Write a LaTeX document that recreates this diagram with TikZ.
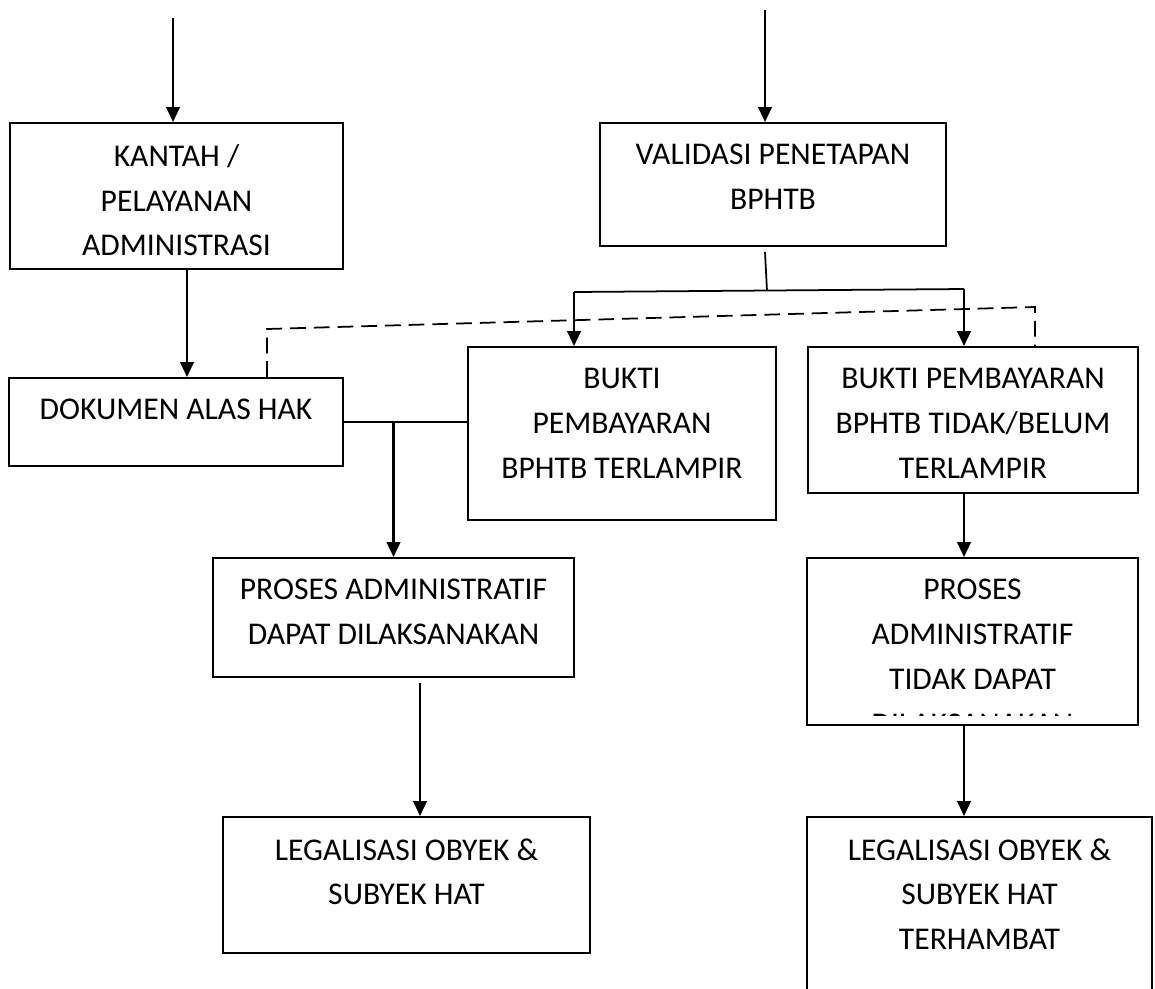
\documentclass[tikz,border=0pt]{standalone}
\usepackage{fontspec}
\setmainfont{Carlito}
\usepackage{tikz}
\usetikzlibrary{positioning,calc,arrows.meta}

\begin{document}
\begin{tikzpicture}[x=0.02cm,y=-0.02cm,
    kotak/.style={draw,line width=1.1pt,inner sep=0pt},
    teks/.style={inner sep=0pt,align=center,font=\fontsize{18pt}{25.5pt}\selectfont},
    panah/.style={line width=1.4pt,-{Triangle[length=0.3cm,width=0.27cm]}},
    garis/.style={line width=1pt},
    putus/.style={line width=1pt,dash pattern=on 9pt off 4.5pt}]
              \clip (0,0) rectangle (1155,988);
              \fill[white] (0,0) rectangle (1155,988);
              \node[kotak,minimum width=6.66cm,minimum height=2.92cm] (kantah) at (176.5,196) {};
              \node[kotak,minimum width=6.92cm,minimum height=2.46cm] (validasi) at (773,184.5) {};
              \node[kotak,minimum width=6.68cm,minimum height=1.76cm] (dokumen) at (176,422) {};
              \node[kotak,minimum width=6.16cm,minimum height=3.46cm] (bukti) at (622,433.5) {};
              \node[kotak,minimum width=6.6cm,minimum height=2.92cm] (buktibelum) at (973,420) {};
              \node[kotak,minimum width=7.22cm,minimum height=2.38cm] (proses) at (393.5,617.5) {};
              \node[kotak,minimum width=6.62cm,minimum height=3.34cm] (prosestidak) at (972.5,641.5) {};
              \node[kotak,minimum width=7.34cm,minimum height=2.72cm] (legal) at (406.5,885) {};
              \node[kotak,minimum width=6.9cm,minimum height=3.86cm] (legalhambat) at (979.5,913.5) {};
              \node[teks,below=0.44cm of kantah.north] (kantah-t) {KANTAH /\\PELAYANAN\\ADMINISTRASI};
              \node[teks,below=0.44cm of validasi.north] (validasi-t) {VALIDASI PENETAPAN\\BPHTB};
              \node[teks,below=0.44cm of dokumen.north] (dokumen-t) {DOKUMEN ALAS HAK};
              \node[teks,below=0.44cm of bukti.north] (bukti-t) {BUKTI\\PEMBAYARAN\\BPHTB TERLAMPIR};
              \node[teks,below=0.44cm of buktibelum.north] (buktibelum-t) {BUKTI PEMBAYARAN\\BPHTB TIDAK/BELUM\\TERLAMPIR};
              \node[teks,below=0.44cm of proses.north] (proses-t) {PROSES ADMINISTRATIF\\DAPAT DILAKSANAKAN};
              \begin{scope}
                \clip (prosestidak.north west) rectangle ($(prosestidak.south east)+(0,-10)$);
                \node[teks,below=0.44cm of prosestidak.north] (prosestidak-t) {PROSES\\ADMINISTRATIF\\TIDAK DAPAT\\DILAKSANAKAN};
              \end{scope}
              \node[teks,below=0.44cm of legal.north] (legal-t) {LEGALISASI OBYEK \&\\SUBYEK HAT};
              \node[teks,below=0.44cm of legalhambat.north] (legalhambat-t) {LEGALISASI OBYEK \&\\SUBYEK HAT\\TERHAMBAT};
              \coordinate (masuk1) at (173,18);
              \coordinate (masuk2) at (765,10);
              \draw[panah] (masuk1) -- (masuk1 |- kantah.north);
              \draw[panah] (masuk2) -- (masuk2 |- validasi.north);
              \draw[panah] ([xshift=0.21cm]kantah.south) -- ([xshift=0.21cm]kantah.south |- dokumen.north);
              \coordinate (cabang) at (767,291);
              \draw[garis] ($(validasi.south)+(-8,5)$) -- (cabang);
              \coordinate (kiri) at (574,292);
              \coordinate (kanan) at (964,289);
              \draw[garis] (kiri) -- (kanan);
              \draw[panah] (kiri) -- (kiri |- bukti.north);
              \draw[panah] (kanan) -- (kanan |- buktibelum.north);
              \coordinate (putus1) at (267,329);
              \coordinate (putus2) at (1035,307);
              \draw[putus] (putus1 |- dokumen.north) -- (putus1) -- (putus2) -- (putus2 |- buktibelum.north);
              \draw[garis] (dokumen.east) -- (dokumen.east -| bukti.west);
              \draw[panah] (dokumen.east -| proses.north) -- (proses.north);
              \coordinate (turun) at (420,683);
              \draw[panah] (turun) -- (turun |- legal.north);
              \draw[panah] (buktibelum.south -| kanan) -- (prosestidak.north -| kanan);
              \draw[panah] (prosestidak.south -| kanan) -- (legalhambat.north -| kanan);
            \end{tikzpicture}
\end{document}
